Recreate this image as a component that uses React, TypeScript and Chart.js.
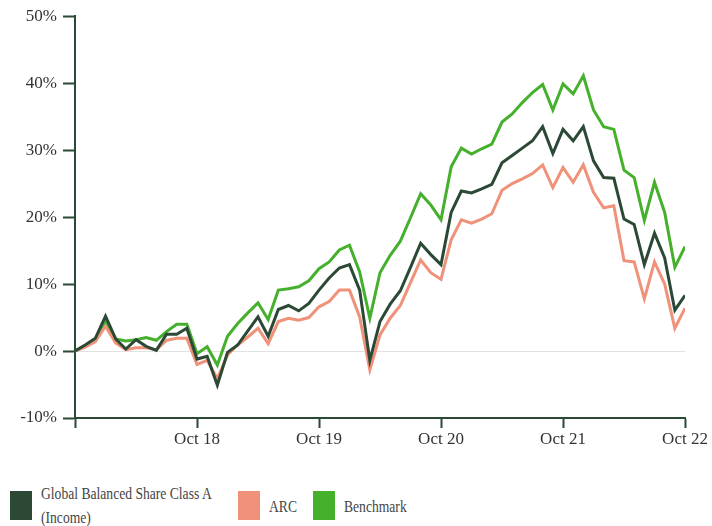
import React, { useEffect, useRef } from 'react';
import { Chart, registerables } from 'chart.js';
Chart.register(...registerables);

// Monthly observations, Oct 2017 .. Oct 2022
const months = [
  'Oct 17','Nov 17','Dec 17','Jan 18','Feb 18','Mar 18','Apr 18','May 18','Jun 18','Jul 18','Aug 18','Sep 18',
  'Oct 18','Nov 18','Dec 18','Jan 19','Feb 19','Mar 19','Apr 19','May 19','Jun 19','Jul 19','Aug 19','Sep 19',
  'Oct 19','Nov 19','Dec 19','Jan 20','Feb 20','Mar 20','Apr 20','May 20','Jun 20','Jul 20','Aug 20','Sep 20',
  'Oct 20','Nov 20','Dec 20','Jan 21','Feb 21','Mar 21','Apr 21','May 21','Jun 21','Jul 21','Aug 21','Sep 21',
  'Oct 21','Nov 21','Dec 21','Jan 22','Feb 22','Mar 22','Apr 22','May 22','Jun 22','Jul 22','Aug 22','Sep 22',
  'Oct 22',
];

const xTickLabels = ['', 'Oct 18', 'Oct 19', 'Oct 20', 'Oct 21', 'Oct 22'];

const fund = [
  0, 0.9, 1.9, 5.2, 1.8, 0.3, 1.7, 0.7, 0.1, 2.5, 2.5, 3.4,
  -1.2, -0.8, -5.1, -0.2, 0.9, 3.0, 5.1, 2.2, 6.2, 6.8, 6.0, 7.1,
  9.1, 10.9, 12.4, 12.9, 9.1, -1.4, 4.4, 7.0, 9.0, 12.5, 16.1, 14.4,
  12.9, 20.7, 23.9, 23.6, 24.2, 24.9, 28.1, 29.2, 30.3, 31.4, 33.5, 29.5,
  33.1, 31.4, 33.5, 28.4, 25.9, 25.8, 19.7, 18.9, 12.9, 17.6, 13.9, 6.1,
  8.3,
];

const arc = [
  0, 0.6, 1.4, 3.7, 1.2, 0.2, 0.5, 0.5, 0.2, 1.6, 1.9, 1.9,
  -2.0, -1.4, -4.1, -0.6, 0.9, 2.1, 3.4, 1.1, 4.4, 4.9, 4.6, 5.0,
  6.6, 7.4, 9.1, 9.1, 5.1, -2.8, 2.4, 4.9, 6.8, 10.2, 13.6, 11.7,
  10.7, 16.6, 19.6, 19.1, 19.7, 20.5, 24.0, 25.0, 25.7, 26.5, 27.8, 24.4,
  27.4, 25.2, 27.8, 23.7, 21.4, 21.7, 13.5, 13.3, 7.8, 13.3, 10.0, 3.4,
  6.4,
];

const benchmark = [
  0, 0.8, 1.8, 4.5, 1.8, 1.5, 1.7, 2.0, 1.6, 2.9, 4.0, 4.0,
  -0.4, 0.65, -2.1, 2.2, 4.1, 5.7, 7.2, 4.7, 9.1, 9.3, 9.6, 10.5,
  12.3, 13.3, 15.1, 15.8, 11.8, 4.9, 11.7, 14.3, 16.4, 19.9, 23.5, 21.8,
  19.6, 27.5, 30.3, 29.4, 30.2, 30.9, 34.2, 35.4, 37.1, 38.6, 39.8, 36.0,
  39.9, 38.4, 41.1, 36.0, 33.5, 33.1, 27.0, 25.9, 19.5, 25.2, 20.7, 12.5,
  15.6,
];

const seriesNames = ['Global Balanced Share Class A (Income)', 'ARC', 'Benchmark'];
const FUND_COLOR = '#2b4935';
const ARC_COLOR = '#f0917a';
const BENCH_COLOR = '#44b02c';
const AXIS_COLOR = '#2b4935';
const FONT = '"Liberation Serif", "DejaVu Serif", serif';

const toPoints = (vals: number[]) => vals.map((v, i) => ({ x: i, y: v }));

export default function App() {
  const ref = useRef<HTMLCanvasElement | null>(null);

  useEffect(() => {
    if (!ref.current) return;
    const mk = (label: string, vals: number[], color: string) => ({
      label,
      data: toPoints(vals),
      borderColor: color,
      backgroundColor: color,
      borderWidth: 3,
      pointRadius: 0,
      tension: 0,
      fill: false,
    });
    const chart = new Chart(ref.current, {
      type: 'line',
      data: {
        datasets: [
          mk(seriesNames[0], fund, FUND_COLOR),
          mk(seriesNames[1], arc, ARC_COLOR),
          mk(seriesNames[2], benchmark, BENCH_COLOR),
        ],
      },
      options: {
        animation: false,
        responsive: false,
        maintainAspectRatio: false,
        layout: { padding: { top: 15, right: 27, bottom: 0, left: 0 } },
        plugins: { legend: { display: false }, tooltip: { enabled: false } },
        scales: {
          x: {
            type: 'linear',
            min: 0,
            max: months.length - 1,
            afterFit: (s: any) => { s.height = 42; },
            afterBuildTicks: (s: any) => {
              s.ticks = xTickLabels.map((_, k) => ({ value: k * 12 }));
            },
            ticks: {
              autoSkip: false,
              maxRotation: 0,
              padding: 1,
              color: '#333',
              font: { family: FONT, size: 17 },
              callback: (v: any) => xTickLabels[Math.round(Number(v) / 12)] ?? '',
            },
            grid: {
              drawOnChartArea: false,
              drawTicks: true,
              tickLength: 10,
              tickWidth: 2,
              tickColor: AXIS_COLOR,
            },
            border: { display: true, color: AXIS_COLOR, width: 2 },
          },
          y: {
            min: -10,
            max: 50,
            afterFit: (s: any) => { s.width = 75; },
            ticks: {
              stepSize: 10,
              padding: 6,
              color: '#333',
              font: { family: FONT, size: 17 },
              callback: (v: any) => `${v}%`,
            },
            grid: {
              drawTicks: true,
              tickLength: 12,
              tickWidth: 2,
              tickColor: AXIS_COLOR,
              lineWidth: 1,
              color: (ctx: any) => (ctx.tick && ctx.tick.value === 0 ? '#e2e2e2' : 'rgba(0,0,0,0)'),
            },
            border: { display: true, color: AXIS_COLOR, width: 2 },
          },
        },
      },
    } as any);
    return () => chart.destroy();
  }, []);

  const legendText: React.CSSProperties = {
    position: 'absolute',
    fontFamily: FONT,
    fontSize: 17,
    color: '#444',
    lineHeight: '24px',
    whiteSpace: 'nowrap',
    transform: 'scaleX(0.8)',
    transformOrigin: 'left center',
  };
  const box = (left: number, color: string): React.CSSProperties => ({
    position: 'absolute',
    left,
    top: 491,
    width: 22,
    height: 29,
    background: color,
  });

  return (
    <div style={{ position: 'absolute', left: 0, top: 0, width: 712, height: 526, background: '#fff', overflow: 'hidden' }}>
      <canvas ref={ref} width={712} height={460} style={{ position: 'absolute', left: 0, top: 0, width: 712, height: 460 }} />
      <div style={box(10, FUND_COLOR)} />
      <div style={{ ...legendText, left: 41, top: 482 }}>
        Global Balanced Share Class A<br />(Income)
      </div>
      <div style={box(238, ARC_COLOR)} />
      <div style={{ ...legendText, left: 269, top: 495 }}>{seriesNames[1]}</div>
      <div style={box(313, BENCH_COLOR)} />
      <div style={{ ...legendText, left: 344, top: 495 }}>{seriesNames[2]}</div>
    </div>
  );
}
